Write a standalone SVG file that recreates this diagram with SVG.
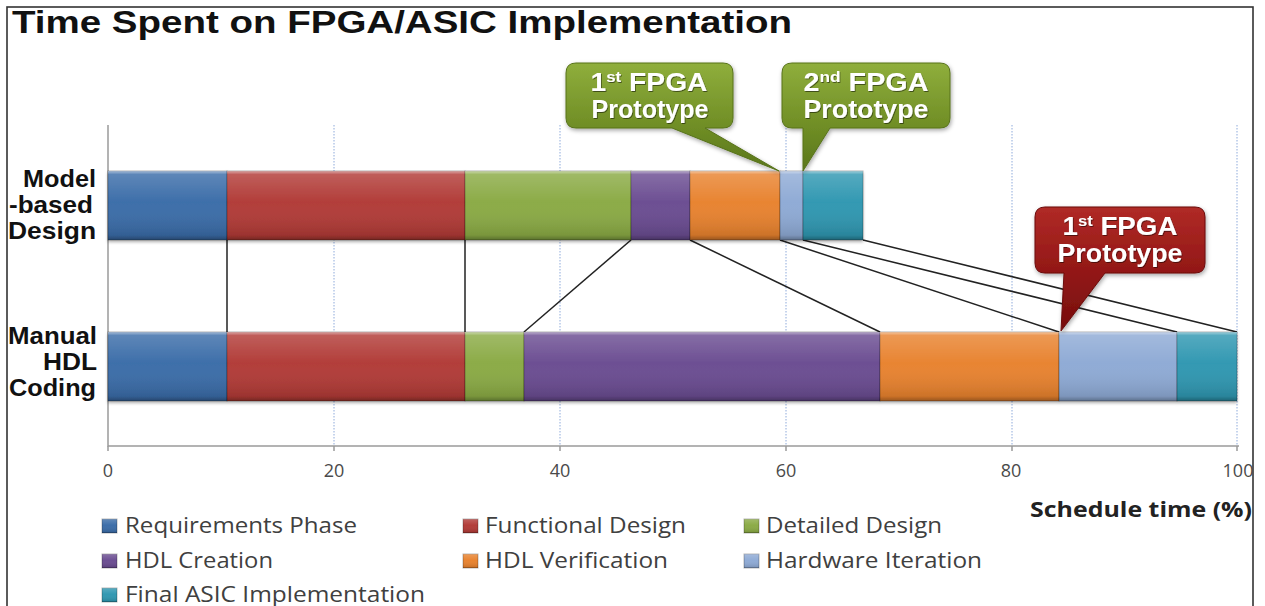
<svg xmlns="http://www.w3.org/2000/svg" width="1265" height="606" viewBox="0 0 1265 606">
  <style>
    .title { font-family: "Liberation Sans", Arial, sans-serif; font-weight: bold; font-size: 32px; fill: #111; }
    .rowlab { font-family: "Liberation Sans", Arial, sans-serif; font-weight: bold; font-size: 24px; fill: #111; text-anchor: end; }
    .tick { font-family: "Open Sans", "Liberation Sans", sans-serif; font-size: 18px; fill: #4a4a4a; text-anchor: middle; }
    .axtitle { font-family: "Open Sans", "Liberation Sans", sans-serif; font-weight: bold; font-size: 21px; fill: #222; }
    .leg { font-family: "Open Sans", "Liberation Sans", sans-serif; font-size: 21px; fill: #404040; }
    .call { font-family: "Liberation Sans", Arial, sans-serif; font-weight: bold; font-size: 25px; fill: #fff; text-anchor: middle; }
    .grid { stroke: #8eaadb; stroke-width: 1; stroke-dasharray: 1.5 1.5; }
    .axis { stroke: #9a9a9a; stroke-width: 1.5; fill: none; }
    .seg { stroke: rgba(0,0,0,0.28); stroke-width: 1; }
    .sheen { fill: url(#sheen); }
    .conn line { stroke: #222; stroke-width: 1.5; }
    .blue { fill: #3a6ca8; }
    .red { fill: #b13a36; }
    .green { fill: #8aaa44; }
    .purple { fill: #6a4c91; }
    .orange { fill: #e8822e; }
    .ltblue { fill: #8eaad5; }
    .teal { fill: #2f97b1; }
  </style>
  <defs>
    <linearGradient id="sheen" x1="0" y1="0" x2="0" y2="1">
      <stop offset="0" stop-color="#fff" stop-opacity="0.55"/>
      <stop offset="0.05" stop-color="#fff" stop-opacity="0.18"/>
      <stop offset="0.45" stop-color="#fff" stop-opacity="0.02"/>
      <stop offset="0.93" stop-color="#000" stop-opacity="0.12"/>
      <stop offset="1" stop-color="#000" stop-opacity="0.35"/>
    </linearGradient>
    <linearGradient id="greenCall" x1="0" y1="0" x2="0" y2="1">
      <stop offset="0" stop-color="#8fae3c"/>
      <stop offset="0.6" stop-color="#6f8d25"/>
      <stop offset="1" stop-color="#5a761b"/>
    </linearGradient>
    <linearGradient id="redCall" x1="0" y1="0" x2="0" y2="1">
      <stop offset="0" stop-color="#b02a26"/>
      <stop offset="0.6" stop-color="#8e1514"/>
      <stop offset="1" stop-color="#760e0e"/>
    </linearGradient>
    <filter id="barShadow" x="-5%" y="-10%" width="110%" height="130%">
      <feDropShadow dx="0" dy="2" stdDeviation="1.6" flood-color="#000" flood-opacity="0.3"/>
    </filter>
    <filter id="callShadow" x="-10%" y="-10%" width="120%" height="130%">
      <feDropShadow dx="1" dy="2" stdDeviation="2" flood-color="#000" flood-opacity="0.35"/>
    </filter>
    <filter id="txtShadow" x="-10%" y="-20%" width="120%" height="150%">
      <feDropShadow dx="0.8" dy="1" stdDeviation="0.6" flood-color="#000" flood-opacity="0.5"/>
    </filter>
  </defs>

  <rect width="1265" height="606" fill="#fff"/>
  <!-- outer frame -->
  <rect x="7" y="7" width="1246" height="640" fill="none" stroke="#333" stroke-width="1.6"/>

  <text class="title" x="12" y="33" textLength="780" lengthAdjust="spacingAndGlyphs">Time Spent on FPGA/ASIC Implementation</text>

  <!-- gridlines and axes -->
  <g id="grid">
    <line class="grid" x1="334" y1="125" x2="334" y2="446"/>
    <line class="grid" x1="560" y1="125" x2="560" y2="446"/>
    <line class="grid" x1="786" y1="125" x2="786" y2="446"/>
    <line class="grid" x1="1012" y1="125" x2="1012" y2="446"/>
    <line class="grid" x1="1237" y1="125" x2="1237" y2="446"/>
  </g>
  <g id="axes">
    <path class="axis" d="M108 125 V446 H1239"/>
    <path class="axis" d="M108 446 v5 M334 446 v5 M560 446 v5 M786 446 v5 M1012 446 v5 M1237 446 v5"/>
    <text class="tick" x="108" y="477" style="font-size:18px">0</text>
    <text class="tick" x="334" y="477" style="font-size:18px">20</text>
    <text class="tick" x="560" y="477" style="font-size:18px">40</text>
    <text class="tick" x="786" y="477" style="font-size:18px">60</text>
    <text class="tick" x="1011" y="477" style="font-size:18px">80</text>
    <text class="tick" x="1238" y="477" style="font-size:18px">100</text>
    <text class="axtitle" x="1030" y="517" textLength="222" lengthAdjust="spacingAndGlyphs">Schedule time (%)</text>
  </g>

  <!-- row labels -->
  <g id="label-model">
    <text class="rowlab" x="96" y="187" textLength="73" lengthAdjust="spacingAndGlyphs">Model</text>
    <text class="rowlab" x="93" y="213" textLength="84" lengthAdjust="spacingAndGlyphs">-based</text>
    <text class="rowlab" x="96" y="239" textLength="88" lengthAdjust="spacingAndGlyphs">Design</text>
  </g>
  <g id="label-manual">
    <text class="rowlab" x="97" y="344" textLength="89" lengthAdjust="spacingAndGlyphs">Manual</text>
    <text class="rowlab" x="97" y="370" textLength="54" lengthAdjust="spacingAndGlyphs">HDL</text>
    <text class="rowlab" x="96" y="396" textLength="87" lengthAdjust="spacingAndGlyphs">Coding</text>
  </g>

  <!-- connectors between matching phase boundaries -->
  <g id="connectors" class="conn">
    <line x1="227" y1="240" x2="227" y2="332"/>
    <line x1="465" y1="240" x2="465" y2="332"/>
    <line x1="631" y1="240" x2="524" y2="332"/>
    <line x1="690" y1="240" x2="880" y2="332"/>
    <line x1="780" y1="240" x2="1059" y2="332"/>
    <line x1="803" y1="240" x2="1177" y2="332"/>
    <line x1="863" y1="240" x2="1237" y2="332"/>
  </g>

  <!-- model-based design bar -->
  <g id="bar-model" filter="url(#barShadow)">
    <g id="model-req"><rect class="seg blue" x="108" y="171" width="119" height="69"/><rect class="sheen" x="108" y="171" width="119" height="69"/></g>
    <g id="model-func"><rect class="seg red" x="227" y="171" width="238" height="69"/><rect class="sheen" x="227" y="171" width="238" height="69"/></g>
    <g id="model-detail"><rect class="seg green" x="465" y="171" width="166" height="69"/><rect class="sheen" x="465" y="171" width="166" height="69"/></g>
    <g id="model-hdl"><rect class="seg purple" x="631" y="171" width="59" height="69"/><rect class="sheen" x="631" y="171" width="59" height="69"/></g>
    <g id="model-verif"><rect class="seg orange" x="690" y="171" width="90" height="69"/><rect class="sheen" x="690" y="171" width="90" height="69"/></g>
    <g id="model-hw"><rect class="seg ltblue" x="780" y="171" width="23" height="69"/><rect class="sheen" x="780" y="171" width="23" height="69"/></g>
    <g id="model-asic"><rect class="seg teal" x="803" y="171" width="60" height="69"/><rect class="sheen" x="803" y="171" width="60" height="69"/></g>
  </g>

  <!-- manual HDL coding bar -->
  <g id="bar-manual" filter="url(#barShadow)">
    <g id="manual-req"><rect class="seg blue" x="108" y="332" width="119" height="69"/><rect class="sheen" x="108" y="332" width="119" height="69"/></g>
    <g id="manual-func"><rect class="seg red" x="227" y="332" width="238" height="69"/><rect class="sheen" x="227" y="332" width="238" height="69"/></g>
    <g id="manual-detail"><rect class="seg green" x="465" y="332" width="59" height="69"/><rect class="sheen" x="465" y="332" width="59" height="69"/></g>
    <g id="manual-hdl"><rect class="seg purple" x="524" y="332" width="356" height="69"/><rect class="sheen" x="524" y="332" width="356" height="69"/></g>
    <g id="manual-verif"><rect class="seg orange" x="880" y="332" width="179" height="69"/><rect class="sheen" x="880" y="332" width="179" height="69"/></g>
    <g id="manual-hw"><rect class="seg ltblue" x="1059" y="332" width="118" height="69"/><rect class="sheen" x="1059" y="332" width="118" height="69"/></g>
    <g id="manual-asic"><rect class="seg teal" x="1177" y="332" width="60" height="69"/><rect class="sheen" x="1177" y="332" width="60" height="69"/></g>
  </g>

  <!-- callouts -->
  <g id="callout-model-1st">
    <path filter="url(#callShadow)" fill="url(#greenCall)" stroke="#58731b" stroke-width="1"
      d="M576 63 H723 Q733 63 733 73 V118 Q733 128 723 128 H705 L779 171 L672 128 H576 Q566 128 566 118 V73 Q566 63 576 63 Z"/>
    <g filter="url(#txtShadow)">
      <text class="call" x="649" y="91" textLength="117" lengthAdjust="spacingAndGlyphs">1<tspan font-size="15" dy="-9">st</tspan><tspan dy="9"> FPGA</tspan></text>
      <text class="call" x="650" y="118" textLength="117" lengthAdjust="spacingAndGlyphs">Prototype</text>
    </g>
  </g>
  <g id="callout-model-2nd">
    <path filter="url(#callShadow)" fill="url(#greenCall)" stroke="#58731b" stroke-width="1"
      d="M792 63 H940 Q950 63 950 73 V118 Q950 128 940 128 H830 L803 171 L803 128 H792 Q782 128 782 118 V73 Q782 63 792 63 Z"/>
    <g filter="url(#txtShadow)">
      <text class="call" x="866" y="91" textLength="125" lengthAdjust="spacingAndGlyphs">2<tspan font-size="15" dy="-9">nd</tspan><tspan dy="9"> FPGA</tspan></text>
      <text class="call" x="866" y="118" textLength="125" lengthAdjust="spacingAndGlyphs">Prototype</text>
    </g>
  </g>
  <g id="callout-manual-1st">
    <path filter="url(#callShadow)" fill="url(#redCall)" stroke="#6a0c0c" stroke-width="1"
      d="M1045 207 H1195 Q1205 207 1205 217 V263 Q1205 273 1195 273 H1105 L1061 331 L1064 273 H1045 Q1035 273 1035 263 V217 Q1035 207 1045 207 Z"/>
    <g filter="url(#txtShadow)">
      <text class="call" x="1120" y="235" textLength="115" lengthAdjust="spacingAndGlyphs">1<tspan font-size="15" dy="-9">st</tspan><tspan dy="9"> FPGA</tspan></text>
      <text class="call" x="1120" y="262" textLength="125" lengthAdjust="spacingAndGlyphs">Prototype</text>
    </g>
  </g>

  <!-- legend -->
  <g id="legend">
    <g id="leg-req"><rect class="seg blue" x="102" y="519" width="15" height="14"/><rect class="sheen" x="102" y="519" width="15" height="14"/><text class="leg" x="125" y="533" textLength="232" lengthAdjust="spacingAndGlyphs">Requirements Phase</text></g>
    <g id="leg-func"><rect class="seg red" x="463" y="519" width="15" height="14"/><rect class="sheen" x="463" y="519" width="15" height="14"/><text class="leg" x="485" y="533" textLength="201" lengthAdjust="spacingAndGlyphs">Functional Design</text></g>
    <g id="leg-detail"><rect class="seg green" x="744" y="519" width="15" height="14"/><rect class="sheen" x="744" y="519" width="15" height="14"/><text class="leg" x="766" y="533" textLength="176" lengthAdjust="spacingAndGlyphs">Detailed Design</text></g>
    <g id="leg-hdl"><rect class="seg purple" x="102" y="554" width="15" height="14"/><rect class="sheen" x="102" y="554" width="15" height="14"/><text class="leg" x="125" y="568" textLength="148" lengthAdjust="spacingAndGlyphs">HDL Creation</text></g>
    <g id="leg-verif"><rect class="seg orange" x="463" y="554" width="15" height="14"/><rect class="sheen" x="463" y="554" width="15" height="14"/><text class="leg" x="485" y="568" textLength="183" lengthAdjust="spacingAndGlyphs">HDL Verification</text></g>
    <g id="leg-hw"><rect class="seg ltblue" x="744" y="554" width="15" height="14"/><rect class="sheen" x="744" y="554" width="15" height="14"/><text class="leg" x="766" y="568" textLength="216" lengthAdjust="spacingAndGlyphs">Hardware Iteration</text></g>
    <g id="leg-asic"><rect class="seg teal" x="102" y="588" width="15" height="14"/><rect class="sheen" x="102" y="588" width="15" height="14"/><text class="leg" x="125" y="602" textLength="300" lengthAdjust="spacingAndGlyphs">Final ASIC Implementation</text></g>
  </g>
</svg>
